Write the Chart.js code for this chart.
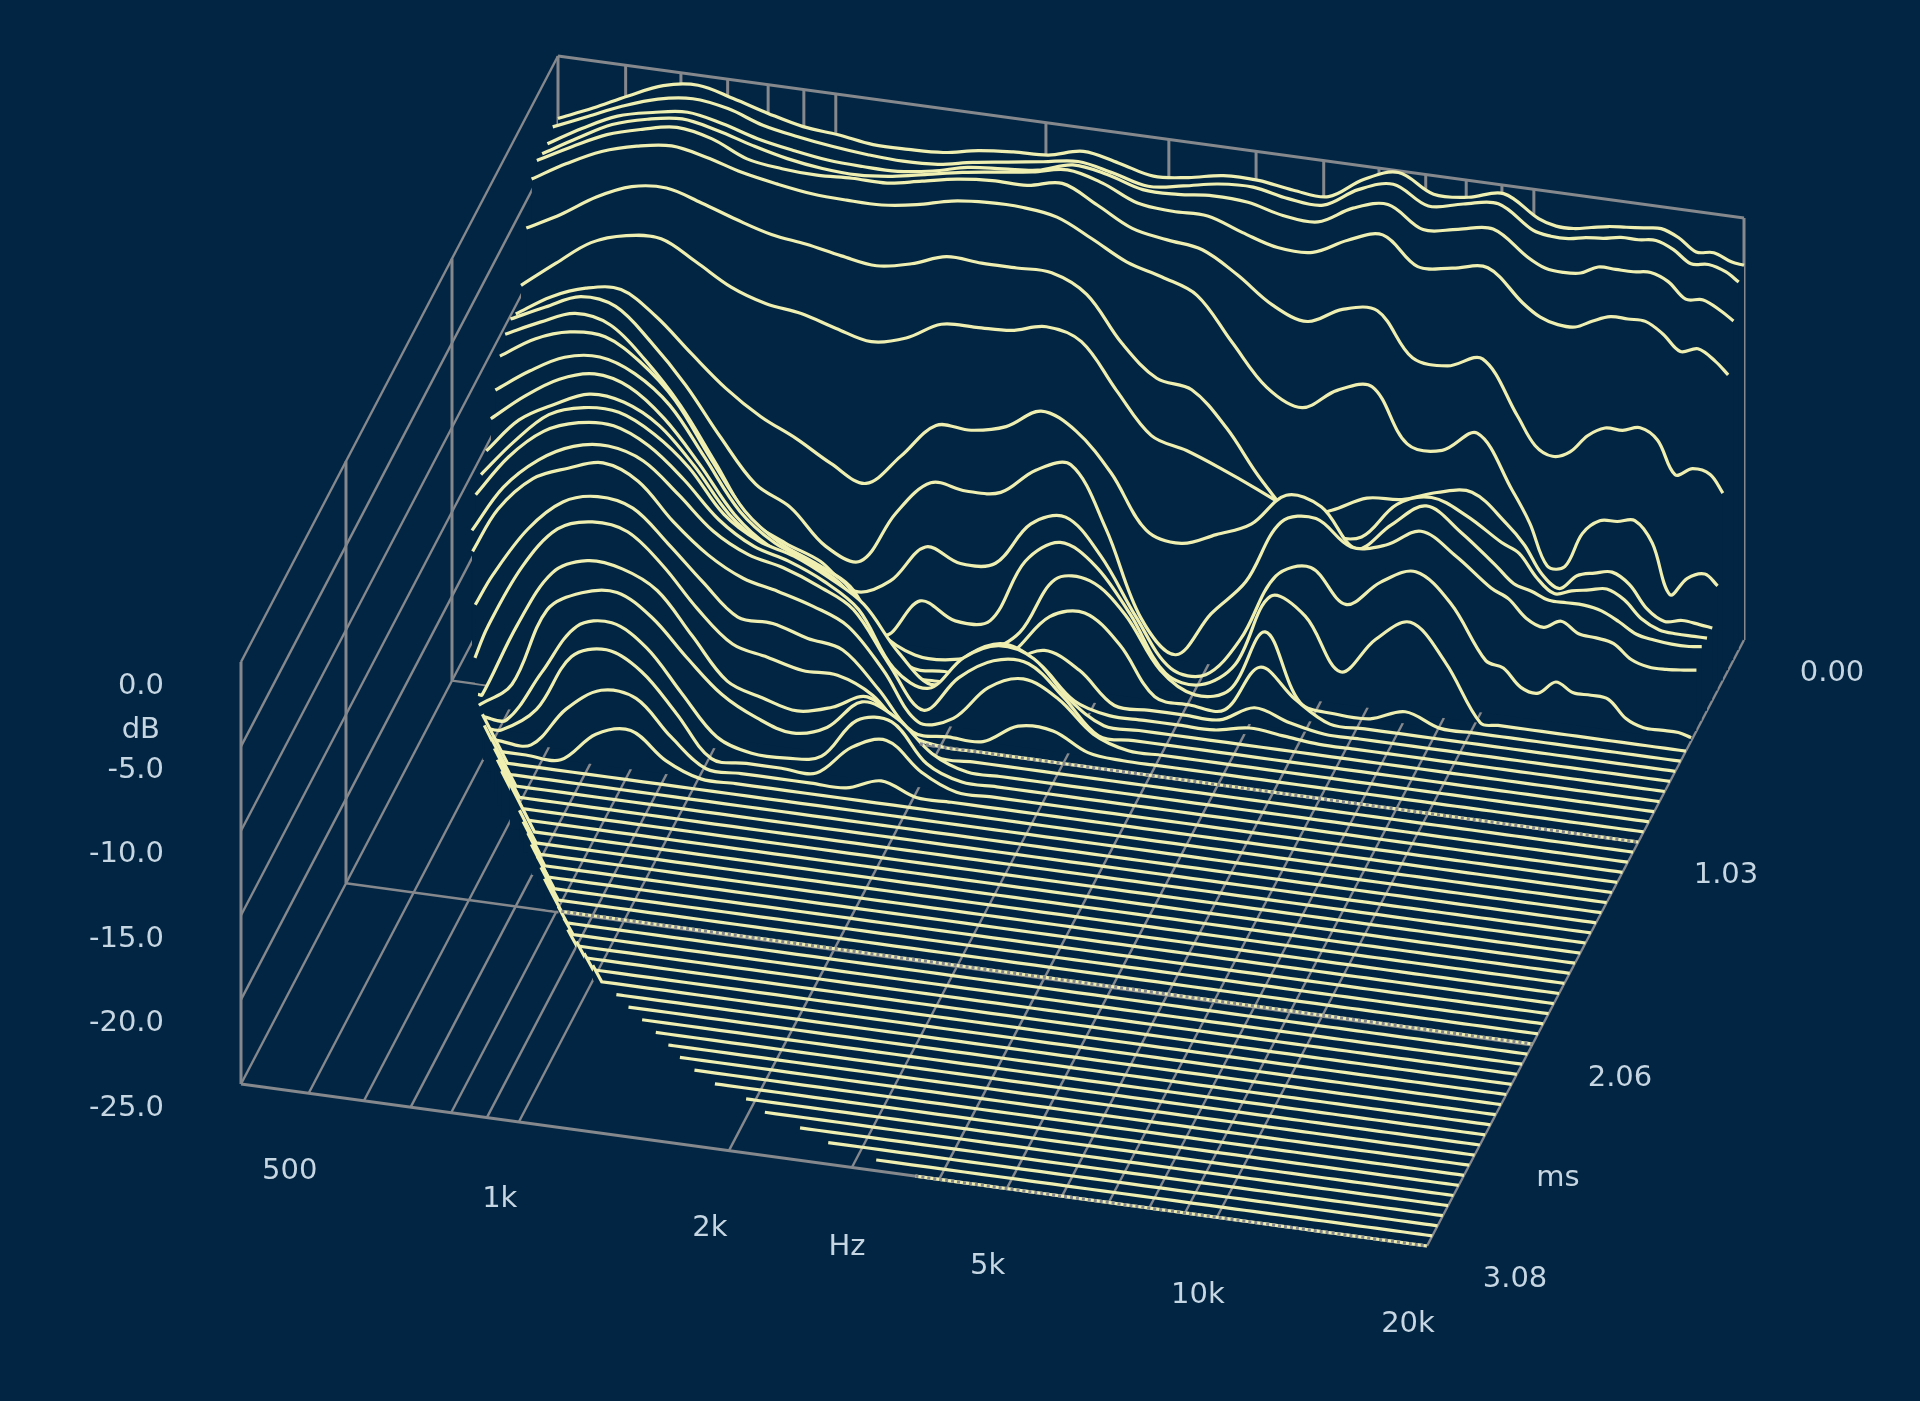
<!DOCTYPE html>
<html>
<head>
<meta charset="utf-8">
<title>Waterfall</title>
<script src="https://cdn.jsdelivr.net/npm/chart.js@4"></script>
<style>
    html, body { margin: 0; padding: 0; background: #022543; }
    canvas { display: block; }
</style>
</head>
<body>
<canvas id="waterfall" width="1920" height="1401"></canvas>
<script>
// frequency of each reading, Hz
const freqs = [400, 449, 504, 566, 635, 713, 800, 898, 1008, 1131, 1270, 1425, 1600, 1796, 2016, 2263, 2540, 2851,
    3200, 3592, 4032, 4525, 5080, 5702, 6400, 7184, 8063, 9051, 10159, 10763, 11404, 12081, 12800, 13561, 14368,
    15222, 16127, 17086, 18102, 19178, 20000];

// levels in dB per slice. A short list means the rest lies on the floor.
const slice00 = [-3.7, -2.8, -1.8, -0.9, -0.6, -1.1, -1.7, -2.2, -2.4, -2.7, -2.7, -2.6, -2.2, -2.0, -1.9, -1.4, -1.8, -2.3, -2.1, -1.7, -1.7, -2.0, -2.1, -0.8, -0.1, -1.1, -1.0, -0.5, -1.7, -2.0, -2.0, -1.8, -1.6, -1.5, -1.4, -1.3, -1.7, -2.4, -2.3, -2.7, -2.8];
const slice01 = [-3.6, -2.7, -1.8, -1.1, -0.8, -1.1, -1.8, -2.2, -2.5, -2.7, -2.8, -2.7, -2.3, -2.0, -1.7, -1.4, -1.8, -2.3, -2.0, -1.6, -1.5, -1.9, -2.0, -0.8, -0.2, -1.2, -0.8, -0.5, -1.8, -2.0, -2.0, -1.8, -1.7, -1.5, -1.5, -1.4, -1.8, -2.5, -2.4, -2.7, -3.2];
const slice02 = [-4.0, -2.8, -1.8, -1.3, -1.0, -1.4, -2.0, -2.4, -2.7, -2.8, -2.8, -2.5, -2.0, -1.8, -1.6, -1.0, -1.3, -1.9, -1.9, -1.7, -1.8, -2.3, -2.4, -1.3, -0.8, -2.0, -1.7, -1.4, -2.8, -3.3, -3.4, -3.3, -2.8, -2.8, -2.8, -2.7, -3.1, -4.0, -3.9, -4.4, -4.9];
const slice03 = [-4.0, -2.8, -1.7, -1.1, -0.8, -1.2, -1.8, -2.3, -2.6, -2.7, -2.5, -2.1, -1.7, -1.4, -1.1, -0.7, -1.2, -2.1, -2.3, -2.3, -3.0, -3.6, -3.6, -2.6, -2.0, -3.6, -3.4, -3.1, -4.9, -5.6, -5.9, -5.9, -5.4, -5.0, -5.0, -5.0, -5.6, -6.5, -6.2, -6.8, -7.5];
const slice04 = [-3.8, -2.7, -1.7, -1.1, -0.7, -1.1, -2.0, -2.3, -2.4, -2.3, -2.3, -1.9, -1.5, -1.3, -1.3, -0.9, -1.9, -3.0, -3.4, -3.7, -4.9, -6.4, -7.1, -6.1, -5.9, -8.4, -8.6, -7.9, -11.0, -12.6, -13.1, -12.7, -11.6, -11.0, -11.0, -10.7, -11.3, -13.2, -12.7, -12.9, -13.9];
const slice05 = [-4.3, -3.1, -2.1, -1.5, -1.2, -1.6, -2.2, -2.6, -2.9, -3.0, -3.0, -2.7, -2.2, -2.0, -2.0, -2.3, -3.3, -4.4, -5.0, -5.8, -8.3, -10.7, -11.6, -10.3, -9.8, -12.9, -13.0, -11.7, -14.8, -16.6, -19.0, -18.9, -16.8, -15.9, -15.8, -15.6, -16.8, -19.7, -18.6, -18.2, -18.8];
const slice06 = [-6.6, -5.5, -4.2, -3.3, -3.1, -3.7, -4.4, -5.0, -5.3, -5.7, -6.0, -5.6, -4.9, -5.0, -5.0, -5.0, -6.0, -8.6, -10.4, -10.8, -12.8, -15.6, -17.5, -16.8, -15.8, -15.6, -14.9, -14.6, -16.2, -17.3, -18.9, -19.6, -18.7, -18.4, -18.2, -18.8, -20.1, -20.7, -20.5, -20.6, -20.7];
const slice07 = [-9.4, -7.8, -6.3, -5.6, -5.5, -6.6, -7.8, -8.5, -8.8, -9.4, -9.9, -9.4, -8.3, -8.2, -8.1, -7.6, -8.2, -10.8, -13.2, -13.8, -14.6, -15.5, -16.5, -17.6, -17.5, -15.3, -14.6, -15.4, -16.7, -17.2, -18.5, -19.3, -19.0, -18.8, -18.6, -19.1, -20.1, -20.6, -20.7, -20.7, -20.7];
const slice08 = [-10.5, -9.2, -8.4, -8.2, -9.5, -11.4, -13.2, -14.6, -15.6, -16.8, -17.7, -15.8, -13.7, -13.7, -13.2, -12.0, -12.9, -15.1, -18.2, -18.7, -17.9, -17.0, -15.0, -15.4, -17.6, -15.9, -14.5, -15.8, -17.5, -18.4, -18.7, -19.1, -19.1, -19.1, -19.3, -19.8, -20.4, -20.6, -20.7, -20.7, -20.6];
const slice09 = [-10.2, -9.2, -8.3, -8.6, -10.4, -12.7, -15.5, -18.0, -19.1, -21.1, -21.7, -18.6, -16.5, -16.7, -16.5, -14.9, -14.3, -17.8, -22.8, -24.7, -22.0, -19.8, -16.0, -15.5, -16.9, -16.5, -15.4, -16.6, -18.2, -18.7, -19.7, -20.1, -19.6, -20.2, -20.3, -20.5, -21.3, -21.6, -21.6, -21.5, -21.4];
const slice10 = [-10.5, -9.5, -8.7, -9.1, -10.9, -13.3, -16.4, -19.5, -20.6, -21.4, -22.9, -22.0, -19.7, -20.4, -20.1, -17.5, -16.8, -18.8, -22.1, -24.9, -25, -22.6, -18.6, -17.8, -19.7, -18.1, -17.2, -18.8, -21.9, -22.2, -23.2, -23.4, -22.6, -23.1, -23.1, -23.2, -24.2, -24.6, -24.6, -24.6, -24.8];
const slice11 = [-11.2, -9.9, -9.2, -9.2, -10.4, -12.4, -15.5, -18.4, -20.0, -20.9, -22.0, -24.6, -22.3, -23.2, -22.9, -19.1, -17.7, -18.8, -21.4, -24.6, -25, -23.5, -19.2, -20.1, -23.1, -20.9, -19.6, -21.7];
const slice12 = [-12.6, -11.2, -10.1, -9.8, -10.5, -12.1, -14.9, -17.8, -19.4, -20.2, -21.2, -23.8, -24.9, -24.9, -24.2, -22.7, -19.3, -19.1, -20.8, -23.8, -25, -24.4, -20.7, -24.6, -25, -25, -24.3];
const slice13 = [-13.7, -12.1, -10.8, -10.2, -10.7, -12.3, -14.7, -17.4, -19.0, -19.6, -20.6, -22.9, -25, -25, -25, -23.2, -20.9, -20.4, -22.0, -24.8, -25, -25, -22.2, -23.8];
const slice14 = [-15.0, -12.9, -11.7, -10.8, -11.0, -12.1, -14.2, -16.8, -18.3, -19.0, -20.0, -22.0, -24.8, -25, -25, -23.4, -22.3, -23.2, -25, -25, -25, -25, -24.0, -24.6];
const slice15 = [-15.8, -13.6, -11.7, -11.0, -11.0, -12.0, -13.7, -16.2, -17.5, -18.1, -19.1, -20.4, -23.0, -24.6, -22.5, -21.6, -22.5, -24.4, -25, -25, -25, -25, -24.6, -24.8];
const slice16 = [-16.4, -13.9, -12.1, -11.3, -11.2, -12.1, -13.8, -15.9, -17.2, -17.8, -18.7, -20.1, -23.3, -24.2, -22.1, -21.1, -21.6, -23.7];
const slice17 = [-17.9, -15.1, -13.2, -12.1, -11.8, -12.4, -14.1, -16.0, -17.1, -17.6, -18.4, -19.5, -22.4, -24.9, -22.7, -21.4, -21.3, -23.0];
const slice18 = [-18.5, -15.8, -13.7, -12.8, -12.2, -13.0, -15.1, -16.8, -17.9, -18.4, -19.0, -19.9, -22.2, -25, -24.5, -22.4, -21.6, -22.5, -24.3];
const slice19 = [-21.0, -19.1, -16.1, -14.2, -13.6, -14.0, -15.8, -17.8, -19.6, -19.7, -20.3, -20.7, -22.7, -25, -25, -25, -23.8, -23.8, -24.8];
const slice20 = [-23.5, -21.6, -17.7, -15.2, -14.5, -14.8, -16.5, -18.8, -20.6, -21.1, -21.6, -21.6, -22.5, -24.5];
const slice21 = [-25, -25, -20.6, -17.2, -16.2, -16.4, -17.4, -19.8, -22.2, -22.9, -23.4, -22.9, -22.0, -23.5];
const slice22 = [-25, -25, -23.5, -18.8, -17.5, -17.2, -18.4, -20.5, -22.4, -23.5, -24.1, -23.5, -21.7, -22.4, -24.2];
const slice23 = [-25, -25, -25, -21.9, -18.9, -18.4, -19.6, -22.0, -24.3, -25, -25, -24.6, -22.2, -22.0, -24.2];
const slice24 = [-25, -25, -25, -23.5, -20.1, -19.4, -20.4, -22.6, -25, -25, -25, -25, -23.2, -22.5, -24.1];
const slice25 = [-25, -25, -25, -25, -22.6, -21.2, -21.4, -23.4, -25, -25, -25, -25, -25, -24.3];
const slice26 = [-25, -25, -25, -25, -25, -23.2, -22.7, -24.2];

const sliceLevels = [slice00, slice01, slice02, slice03, slice04, slice05, slice06, slice07, slice08, slice09,
    slice10, slice11, slice12, slice13, slice14, slice15, slice16, slice17, slice18, slice19,
    slice20, slice21, slice22, slice23, slice24, slice25, slice26];

// where each of the 61 slices begins, Hz
const sliceStartHz = [400, 400, 400, 400, 400, 400, 400, 400, 400, 400, 400, 400, 401, 402, 403, 403, 403, 405, 413, 424,
    431, 443, 452, 466, 477, 496, 510, 542, 554, 577, 594, 610, 630, 658, 673, 694, 717, 738, 766, 790,
    812, 842, 874, 900, 942, 984, 1030, 1100, 1165, 1240, 1320, 1400, 1480, 1580, 1720, 1940, 2100, 2400, 2680, 3195, 3700];

// slices 27 to 46 kick up at their low end, that makes the bright edge on the left
const tailFirstSlice = 27;
const tailHz = [499, 511, 531, 547, 562, 580, 606, 637, 656, 678, 698, 724, 746, 768, 818, 848, 874, 915, 955, 1000];
const tailDb = [-22.3, -22.3, -22.3, -22.3, -22.3, -22.3, -22.3, -23.2, -23.2, -23.2, -23.2, -23.2, -23.2, -23.2,
    -24.1, -24.1, -24.1, -24.1, -24.1, -24.1];

const sliceCount = 61;
const maxMs = 3.08;
const minHz = 400;
const maxHz = 20000;
const floorDb = -25;
const topDb = 0;

const gridHz = [500, 600, 700, 800, 900, 1000, 2000, 3000, 4000, 5000, 6000, 7000, 8000, 9000, 10000];
const gridDb = [-20, -15, -10, -5];
const gridMs = [1.03, 2.06];

const hzLabels = [[500, "500"], [1000, "1k"], [2000, "2k"], [5000, "5k"], [10000, "10k"], [20000, "20k"]];
const dbLabels = [[0, "0.0"], [-5, "-5.0"], [-10, "-10.0"], [-15, "-15.0"], [-20, "-20.0"], [-25, "-25.0"]];
const msLabels = [[0, "0.00"], [1.03, "1.03"], [2.06, "2.06"], [3.08, "3.08"]];

// floor lines drawn over a grid line come out dotted: [ms, from Hz]
const dottedSlices = [[1.027, 1870], [2.053, 812], [3.08, 3700]];

const bgColor = "#022543";
const lineColor = "#efefb2";
const gridColor = "#85888c";
const textColor = "#c6d6e2";

// 3D box to page position, the box is a plain parallelogram in the picture
const project = (hz, ms, db) => {
    const u = Math.log(hz / minHz) / Math.log(maxHz / minHz);
    const v = ms / maxMs;
    const w = (db - floorDb) / (topDb - floorDb);
    return { x: 558 + 1186 * u - 317 * v, y: 478 + 162 * u + 606 * v - 422 * w };
};

const datasets = [];

const addGrid = (a, b, width) => {
    datasets.push({
        data: [project(...a), project(...b)],
        showLine: true,
        borderColor: gridColor,
        borderWidth: width || 2.4,
        pointRadius: 0,
        fill: false,
        order: 500,
    });
};

// box edges
addGrid([minHz, maxMs, floorDb], [minHz, maxMs, topDb], 3);
addGrid([minHz, 0, floorDb], [minHz, 0, topDb], 3);
addGrid([maxHz, 0, floorDb], [maxHz, 0, topDb], 3);
addGrid([minHz, maxMs, topDb], [minHz, 0, topDb]);
addGrid([minHz, 0, topDb], [maxHz, 0, topDb], 3);
addGrid([minHz, maxMs, floorDb], [maxHz, maxMs, floorDb], 3);
addGrid([maxHz, maxMs, floorDb], [maxHz, 0, floorDb]);
addGrid([minHz, maxMs, floorDb], [minHz, 0, floorDb]);

for (const ms of gridMs) {
    addGrid([minHz, ms, floorDb], [minHz, ms, topDb], 3);
    addGrid([minHz, ms, floorDb], [maxHz, ms, floorDb]);
}
for (const db of gridDb) {
    addGrid([minHz, maxMs, db], [minHz, 0, db]);
    addGrid([maxHz, 0, db], [19700, 0, db]);
}
for (const hz of gridHz) {
    addGrid([hz, maxMs, floorDb], [hz, 0, floorDb]);
    addGrid([hz, 0, floorDb], [hz, 0, topDb], 3);
}

// slices, back to front, each one filled down to its floor line so it hides what is behind it
for (let j = 0; j < sliceCount; j++) {
    const ms = j * maxMs / (sliceCount - 1);
    const levels = sliceLevels[j] || [];
    const top = [];
    const floor = [];
    const t = j - tailFirstSlice;
    if (t >= 0 && t < tailHz.length) {
        top.push(project(tailHz[t], ms, tailDb[t]));
        floor.push(project(tailHz[t], ms, floorDb));
    }
    freqs.forEach((hz, i) => {
        const f = Math.max(hz, sliceStartHz[j]);
        const db = i < levels.length ? levels[i] : floorDb;
        top.push(project(f, ms, db));
        floor.push(project(f, ms, floorDb));
    });
    datasets.push({
        data: top,
        showLine: true,
        borderColor: lineColor,
        borderWidth: 3.2,
        pointRadius: 0,
        tension: 0.35,
        fill: { target: "+1", above: bgColor, below: bgColor },
        order: 200 - j,
    });
    // showLine has to stay on or scatter drops the element the fill needs
    datasets.push({
        data: floor,
        showLine: true,
        pointRadius: 0,
        borderWidth: 0,
        borderColor: "rgba(0,0,0,0)",
        fill: false,
        order: 200 - j,
    });
}

for (const [ms, fromHz] of dottedSlices) {
    datasets.push({
        data: [project(fromHz, ms, floorDb), project(maxHz, ms, floorDb)],
        showLine: true,
        borderColor: gridColor,
        borderWidth: 3.2,
        borderDash: [3, 3],
        pointRadius: 0,
        fill: false,
        order: 1,
    });
}

const axisText = {
    id: "axisText",
    afterDraw: (chart) => {
        const { ctx, scales } = chart;
        const put = (text, x, y, align) => {
            ctx.textAlign = align || "center";
            ctx.fillText(text, scales.x.getPixelForValue(x), scales.y.getPixelForValue(y));
        };
        ctx.save();
        ctx.fillStyle = textColor;
        ctx.textBaseline = "middle";
        ctx.font = "29px 'DejaVu Sans'";
        for (const [db, text] of dbLabels) {
            const p = project(minHz, maxMs, db);
            put(text, p.x - 77, p.y + 24, "right");
        }
        for (const [hz, text] of hzLabels) {
            const p = project(hz, maxMs, floorDb);
            put(text, p.x - 19, p.y + 78);
        }
        for (const [ms, text] of msLabels) {
            const p = project(maxHz, ms, floorDb);
            put(text, p.x + 88, p.y + 33);
        }
        put("dB", 160, 730, "right");
        put("Hz", 847, 1247);
        put("ms", 1558, 1178);
        ctx.restore();
    },
};

new Chart(document.getElementById("waterfall"), {
    type: "scatter",
    data: { datasets: datasets },
    plugins: [axisText],
    options: {
        responsive: false,
        animation: false,
        layout: { padding: 0 },
        plugins: { legend: { display: false }, tooltip: { enabled: false } },
        scales: {
            x: { type: "linear", min: 0, max: 1920, display: false },
            y: { type: "linear", min: 0, max: 1401, reverse: true, display: false },
        },
    },
});
</script>
</body>
</html>
